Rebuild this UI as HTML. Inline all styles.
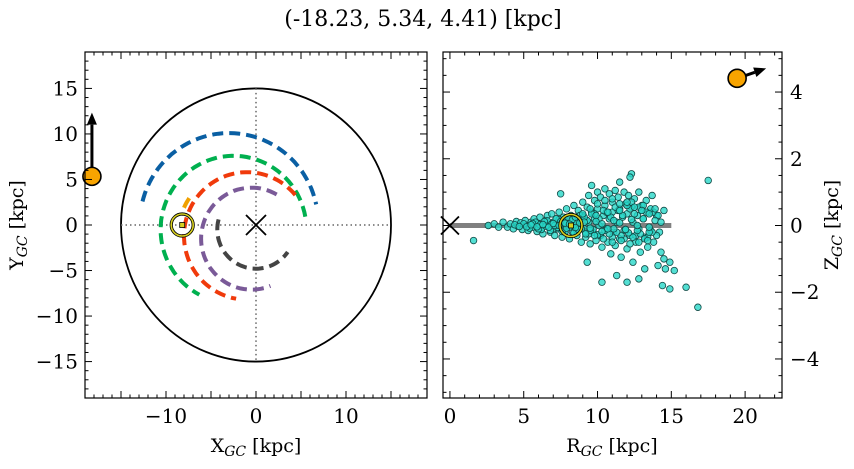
<!DOCTYPE html>
<html><head><meta charset="utf-8">
<style>
body{margin:0;background:#fff;}
svg text{font-family:"DejaVu Serif","Liberation Serif",serif;fill:#000;}
</style></head>
<body>
<svg id="fig" width="854" height="464" xmlns="http://www.w3.org/2000/svg">
<text x="423" y="26" font-size="22" font-family="DejaVu Serif, Liberation Serif, serif" text-anchor="middle">(-18.23, 5.34, 4.41) [kpc]</text>
<g id="left"></g>
<g id="right"></g>
</svg>
<script>
// ---- data ----
const xyTicks=[-15,-10,-5,0,5,10,15];
const xTickLabels=["−10","0","10"];
const xTickVals=[-10,0,10];
const yTickVals=[-15,-10,-5,0,5,10,15];
const yTickLabels=["−15","−10","−5","0","5","10","15"];
const rTickVals=[0,5,10,15,20];
const zTickVals=[-4,-2,0,2,4];
const zTickLabels=["−4","−2","0","2","4"];
// arms: center x, center y, radius, start angle, end angle (deg)
const armColors=["#0a5fa3","#00b04f","#f03a0b","#7a5a98","#444444","#f0a000"];
const armCx=[-3,-2.5,-1,-0.5,0,-2.5];
const armCy=[0.2,-0.5,-1.2,-1.5,-0.5,-0.5];
const armR=[9.9,8.1,7.0,5.6,4.3,6];
const armA0=[166,10,40,60,165,145];
const armA1=[12,242,260,292,325,165];
const objX=-18.23, objY=5.34, objZ=4.41;
const objVx=0, objVy=7;
const sunX=-8.2, sunY=0, sunR=8.2, sunZ=0;
const objR=19.46;
const diskR=15;
const starR=[1.6,2.6,3.0,3.3,3.6,3.9,4.1,4.3,4.5,4.6,4.8,4.9,5.1,5.2,5.3,5.5,5.6,5.7,5.9,6.0,6.1,6.2,6.3,6.5,6.6,6.7,6.8,6.9,7.0,7.1,7.2,7.3,7.4,7.5,7.6,7.7,7.8,7.9,8.0,8.1,8.2,8.3,8.4,8.5,8.6,8.7,8.8,8.9,9.0,9.0,9.1,9.2,9.3,9.4,9.4,9.5,9.6,9.7,9.8,9.8,9.9,10.0,10.0,10.1,10.2,10.2,10.3,10.4,10.5,10.5,10.6,10.7,10.8,10.8,10.9,11.0,11.0,11.1,11.2,11.2,11.3,11.4,11.5,11.5,11.6,11.7,11.8,11.8,11.9,12.0,12.0,12.1,12.2,12.3,12.4,12.4,12.5,12.6,12.7,12.8,12.8,12.9,13.0,13.1,13.2,13.3,13.4,13.5,13.6,13.7,13.8,14.0,14.1,14.3,14.5,14.6,14.9,15.2,14.4,14.9,16.0,16.8,17.5,12.3,9.6,9.3,11.3,12.0,12.8,10.3,13.2,7.5,12.2,14.5,11.5,
5.0,5.4,5.8,6.2,6.6,7.0,7.4,7.8,8.2,8.6,9.0,9.4,9.8,10.2,10.6,11.0,11.4,11.8,12.2,12.6,13.0,13.4,13.8,14.2,
5.2,5.6,6.0,6.4,6.8,7.2,7.6,8.0,8.4,8.8,9.2,9.6,10.0,10.4,10.8,11.2,11.6,12.0,12.4,12.8,13.2,13.6,14.0,
6.1,6.5,6.9,7.3,7.7,8.1,8.5,8.9,9.3,9.7,10.1,10.5,10.9,11.3,11.7,12.1,12.5,12.9,13.3,13.7,14.1,
7.1,7.5,7.9,8.3,8.7,9.1,9.5,9.9,10.3,10.7,11.1,11.5,11.9,12.3,12.7,13.1,13.5,13.9,
8.5,9.0,9.5,10.0,10.5,11.0,11.5,12.0,12.5,13.0,13.5,9.2,9.8,10.4,11.0,11.6,12.2,12.8,13.4,
4.4,4.7,5.5,5.9,6.3,6.7,7.0,7.4,7.8,8.1,8.5,8.8,9.1,9.5,9.9,10.3,10.7,11.1,11.5,11.9,12.3,12.7,13.1,13.5,13.9,14.3];
const starZ=[-0.45,0.0,0.05,-0.05,0.1,-0.05,0.05,-0.1,0.12,-0.02,0.08,-0.12,0.15,0.0,-0.15,0.1,-0.05,0.2,-0.18,0.05,0.25,-0.1,-0.25,0.15,0.3,-0.05,-0.2,0.35,0.1,-0.3,0.2,-0.1,0.4,0.0,-0.35,0.25,-0.15,0.5,0.1,-0.4,0.3,-0.2,0.6,0.0,-0.3,0.45,0.15,-0.5,0.7,0.3,-0.1,-0.35,0.55,0.9,0.1,-0.55,0.4,-0.2,0.75,0.2,-0.45,1.0,0.5,0.0,-0.3,0.85,-0.65,0.3,1.1,0.6,-0.1,-0.5,0.95,0.2,-0.85,0.7,0.4,-0.2,1.05,-0.6,0.1,0.85,-0.4,0.5,-0.95,0.25,1.0,-0.15,0.65,-0.7,0.35,0.9,-0.3,0.55,-1.1,0.1,0.8,-0.5,0.3,1.0,-0.1,-0.8,0.6,0.2,-0.35,0.75,-0.65,0.4,-0.15,0.9,-0.5,0.3,-1.2,-0.8,-1.0,-1.3,-1.1,-1.35,-1.8,-1.9,-1.85,-2.45,1.35,1.55,1.2,-1.1,-1.5,-1.7,-1.6,-1.7,-1.3,0.95,1.45,0.45,1.3,
0.05,-0.08,0.1,-0.12,0.14,-0.1,0.18,-0.2,0.22,-0.15,0.3,-0.25,0.35,-0.3,0.4,-0.35,0.45,-0.4,0.5,-0.3,0.45,-0.35,0.4,-0.2,
-0.04,0.06,-0.1,0.12,-0.15,0.2,-0.18,0.25,-0.22,0.3,-0.2,0.35,-0.28,0.45,-0.25,0.55,-0.3,0.6,-0.35,0.55,-0.4,0.5,-0.3,
0.02,-0.02,0.05,-0.06,0.08,-0.05,0.1,-0.1,0.15,-0.12,0.2,-0.15,0.25,-0.2,0.3,-0.22,0.35,-0.25,0.4,-0.2,0.3,
0.0,0.12,-0.08,0.18,-0.12,0.25,-0.15,0.3,-0.18,0.4,-0.1,0.45,-0.12,0.7,-0.15,0.6,-0.2,0.5,
0.25,0.35,0.5,0.65,0.75,0.8,0.65,0.7,0.55,0.45,0.35,-0.25,-0.3,-0.4,-0.5,-0.45,-0.55,-0.5,-0.45,
0.02,-0.03,0.02,-0.04,0.03,-0.05,0.06,0.0,0.07,0.04,-0.06,0.08,0.1,-0.08,0.12,0.05,-0.1,0.15,0.08,-0.12,0.18,0.0,0.2,-0.05,0.15,0.1];

const NS="http://www.w3.org/2000/svg";
function mk(tag,attrs,parent){const e=document.createElementNS(NS,tag);for(const k in attrs)e.setAttribute(k,attrs[k]);parent.appendChild(e);return e;}

// ---- left panel ----
const L={x0:85,x1:427,y0:52,y1:398,min:-19,max:19};
const lx=v=>L.x0+(v-L.min)/(L.max-L.min)*(L.x1-L.x0);
const ly=v=>L.y1-(v-L.min)/(L.max-L.min)*(L.y1-L.y0);
const gL=document.getElementById('left');
let e;
e=mk('ellipse',{cx:lx(0),cy:ly(0),rx:lx(diskR)-lx(0),ry:ly(0)-ly(diskR),fill:'none',stroke:'#000','stroke-width':1.8},gL);


e=mk('line',{x1:lx(-diskR),x2:lx(diskR),y1:ly(0),y2:ly(0),stroke:'#666','stroke-width':1.5,'stroke-dasharray':'1.5,3'},gL);


e=mk('line',{x1:lx(0),x2:lx(0),y1:ly(diskR),y2:ly(-diskR),stroke:'#666','stroke-width':1.5,'stroke-dasharray':'1.5,3'},gL);


for(let i=0;i<armColors.length;i++){
  let pts=[];const n=60;
  for(let k=0;k<=n;k++){const a=(armA0[i]+(armA1[i]-armA0[i])*k/n)*Math.PI/180;
    pts.push(lx(armCx[i]+armR[i]*Math.cos(a)).toFixed(1)+','+ly(armCy[i]+armR[i]*Math.sin(a)).toFixed(1));}
  e=mk('polyline',{points:pts.join(' '),fill:'none',stroke:armColors[i],'stroke-width':4,'stroke-dasharray':'11,6'},gL);
  
  
}
function cross(g,cx,cy,s,name){const p=mk('path',{d:`M${cx-s},${cy-s}L${cx+s},${cy+s}M${cx-s},${cy+s}L${cx+s},${cy-s}`,stroke:'#000','stroke-width':1.8,fill:'none'},g);
  
  }
cross(gL,lx(0),ly(0),10,'galactic-center-marker');
function sun(g,cx,cy,name){const s=mk('g',{},g);
  
  
  mk('circle',{cx,cy,r:11,fill:'none',stroke:'#000','stroke-width':3.2},s);
  mk('circle',{cx,cy,r:11,fill:'none',stroke:'#d8d020','stroke-width':1.6},s);
  mk('rect',{x:cx-2.5,y:cy-2.5,width:5,height:5,fill:'#d8d020',stroke:'#000','stroke-width':0.8},s);}
sun(gL,lx(sunX),ly(sunY),'sun-marker-xy');
function arrow(g,x1,y1,x2,y2,name){const a=Math.atan2(y2-y1,x2-x1),h=12,w=5;
  const s=mk('g',{},g);
  
  
  const bx=x2-h*Math.cos(a),by=y2-h*Math.sin(a);
  mk('line',{x1,y1,x2:bx,y2:by,stroke:'#000','stroke-width':3},s);
  mk('path',{d:`M${x2},${y2}L${bx-w*Math.sin(a)},${by+w*Math.cos(a)}L${bx+w*Math.sin(a)},${by-w*Math.cos(a)}Z`,fill:'#000'},s);}
arrow(gL,lx(objX),ly(objY),lx(objX+objVx),ly(objY+objVy),'velocity-arrow-xy');
e=mk('circle',{cx:lx(objX),cy:ly(objY),r:9,fill:'#f8a400',stroke:'#000','stroke-width':1.6},gL);


mk('rect',{x:L.x0,y:L.y0,width:L.x1-L.x0,height:L.y1-L.y0,fill:'none',stroke:'#000','stroke-width':1.2},gL);
function ticksX(g,x0,x1,y0,y1,fx,vals,minStep,len){
  for(let v=Math.ceil(fx.min/minStep)*minStep;v<=fx.max+1e-9;v+=minStep){const X=fx.f(v);const maj=vals.some(t=>Math.abs(t-v)<1e-6);const l=maj?len:len/2;
    mk('line',{x1:X,x2:X,y1:y1,y2:y1-l,stroke:'#000','stroke-width':1},g);
    mk('line',{x1:X,x2:X,y1:y0,y2:y0+l,stroke:'#000','stroke-width':1},g);}
}
function ticksY(g,x0,x1,fy,vals,minStep,len){
  for(let v=Math.ceil(fy.min/minStep)*minStep;v<=fy.max+1e-9;v+=minStep){const Y=fy.f(v);const maj=vals.some(t=>Math.abs(t-v)<1e-6);const l=maj?len:len/2;
    mk('line',{x1:x0,x2:x0+l,y1:Y,y2:Y,stroke:'#000','stroke-width':1},g);
    mk('line',{x1:x1,x2:x1-l,y1:Y,y2:Y,stroke:'#000','stroke-width':1},g);}
}
ticksX(gL,L.x0,L.x1,L.y0,L.y1,{min:-19,max:19,f:lx},xyTicks,1,7);
ticksY(gL,L.x0,L.x1,{min:-19,max:19,f:ly},xyTicks,1,7);
xTickVals.forEach((v,i)=>{const t=mk('text',{x:lx(v),y:423,'font-size':20,'text-anchor':'middle'},gL);t.textContent=xTickLabels[i];
  
  });
yTickVals.forEach((v,i)=>{const t=mk('text',{x:78,y:ly(v)+7,'font-size':20,'text-anchor':'end'},gL);t.textContent=yTickLabels[i];
  
  });
e=mk('text',{x:256,y:452,'font-size':19,'text-anchor':'middle'},gL);
e.innerHTML='X<tspan font-size="14" dy="4" font-style="italic">GC</tspan><tspan dy="-4"> [kpc]</tspan>';


e=mk('text',{x:0,y:0,'font-size':19,'text-anchor':'middle',transform:`translate(23,225) rotate(-90)`},gL);
e.innerHTML='Y<tspan font-size="14" dy="4" font-style="italic">GC</tspan><tspan dy="-4"> [kpc]</tspan>';



// ---- right panel ----
const R={x0:443,x1:782,y0:52,y1:398,xmin:-0.47,xmax:22.5,ymin:-5.17,ymax:5.2};
const rx=v=>R.x0+(v-R.xmin)/(R.xmax-R.xmin)*(R.x1-R.x0);
const rz=v=>R.y1-(v-R.ymin)/(R.ymax-R.ymin)*(R.y1-R.y0);
const gR=document.getElementById('right');
e=mk('line',{x1:rx(0),x2:rx(diskR),y1:rz(0),y2:rz(0),stroke:'#808080','stroke-width':5},gR);


const sg=mk('g',{},gR);


for(let i=0;i<starR.length;i++){
  const c=mk('circle',{cx:rx(starR[i]),cy:rz(starZ[i]),r:3.3,fill:'rgba(40,215,200,0.8)',stroke:'#124a46','stroke-width':0.8},sg);
  
  
}
cross(gR,rx(0),rz(0),9,'galactic-center-marker-rz');
sun(gR,rx(sunR),rz(sunZ),'sun-marker-rz');
arrow(gR,rx(objR),rz(objZ),rx(objR)+29,rz(objZ)-10,'velocity-arrow-rz');
e=mk('circle',{cx:rx(objR),cy:rz(objZ),r:9,fill:'#f8a400',stroke:'#000','stroke-width':1.6},gR);


mk('rect',{x:R.x0,y:R.y0,width:R.x1-R.x0,height:R.y1-R.y0,fill:'none',stroke:'#000','stroke-width':1.2},gR);
ticksX(gR,R.x0,R.x1,R.y0,R.y1,{min:R.xmin,max:R.xmax,f:rx},rTickVals,1,7);
ticksY(gR,R.x0,R.x1,{min:R.ymin,max:R.ymax,f:rz},zTickVals,0.5,7);
rTickVals.forEach(v=>{const t=mk('text',{x:rx(v),y:423,'font-size':20,'text-anchor':'middle'},gR);t.textContent=String(v);
  
  });
zTickVals.forEach((v,i)=>{const t=mk('text',{x:790,y:rz(v)+7,'font-size':20,'text-anchor':'start'},gR);t.textContent=zTickLabels[i];
  
  });
e=mk('text',{x:612,y:452,'font-size':19,'text-anchor':'middle'},gR);
e.innerHTML='R<tspan font-size="14" dy="4" font-style="italic">GC</tspan><tspan dy="-4"> [kpc]</tspan>';


e=mk('text',{x:0,y:0,'font-size':19,'text-anchor':'middle',transform:`translate(838,225) rotate(-90)`},gR);
e.innerHTML='Z<tspan font-size="14" dy="4" font-style="italic">GC</tspan><tspan dy="-4"> [kpc]</tspan>';


</script>
</body></html>
